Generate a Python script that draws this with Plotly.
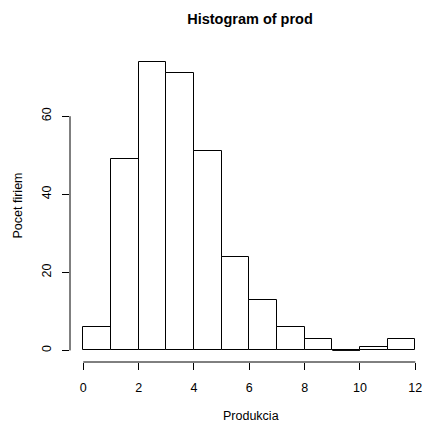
import plotly.graph_objects as go

# Data: histogram bins (left edges, right edges) and counts
bin_left = [0, 1, 2, 3, 4, 5, 6, 7, 8, 9, 10, 11]
bin_right = [1, 2, 3, 4, 5, 6, 7, 8, 9, 10, 11, 12]
counts = [6, 49, 74, 71, 51, 24, 13, 6, 3, 0, 1, 3]
x_ticks = [0, 2, 4, 6, 8, 10, 12]
y_ticks = [0, 20, 40, 60]

centers = [(a + b) / 2 for a, b in zip(bin_left, bin_right)]
widths = [b - a for a, b in zip(bin_left, bin_right)]

W, H = 422, 423
ml, mt = 70, 50
mb = 61
mr = 0
pw = W - ml - mr
ph = H - mt - mb

font = "Liberation Sans, Arial, Helvetica, sans-serif"


def vx(px):
    return (px - ml) / pw


def vy(py):
    return (H - mb - py) / ph


fig = go.Figure(
    go.Bar(
        x=centers,
        y=counts,
        width=widths,
        marker=dict(color="white", line=dict(color="black", width=1)),
        hoverinfo="skip",
    )
)

# zero-count bins: R draws them as a flat line on the baseline
zx, zy = [], []
for a, b, c in zip(bin_left, bin_right, counts):
    if c == 0:
        zx += [a, b, None]
        zy += [0, 0, None]
if zx:
    fig.add_trace(go.Scatter(x=zx, y=zy, mode="lines",
                             line=dict(color="black", width=1),
                             hoverinfo="skip"))

# R-style 4% range extension; the window cuts off the right side
xmin = -0.48
xmax = xmin + pw / 27.67
yr = [-0.04 * max(counts), max(counts) * 1.04]

fig.update_layout(
    width=W,
    height=H,
    margin=dict(l=ml, r=mr, t=mt, b=mb, pad=0),
    paper_bgcolor="white",
    plot_bgcolor="white",
    showlegend=False,
    bargap=0,
    font=dict(family=font, size=12.5, color="black"),
    title=dict(
        text="<b>Histogram of prod</b>",
        x=250 / W,
        xref="container",
        xanchor="center",
        y=1 - 19 / H,
        yref="container",
        yanchor="middle",
        font=dict(size=14.5, family=font, color="black"),
    ),
    xaxis=dict(
        range=[xmin, xmax],
        showgrid=False,
        zeroline=False,
        showline=False,
        tickmode="array",
        tickvals=x_ticks,
        ticktext=[str(v) for v in x_ticks],
        ticks="outside",
        ticklen=7,
        tickwidth=1,
        tickcolor="black",
        ticklabelstandoff=7,
        ticklabeloverflow="allow",
        tickfont=dict(size=12.5, family=font, color="black"),
    ),
    yaxis=dict(
        range=yr,
        showgrid=False,
        zeroline=False,
        showline=False,
        tickmode="array",
        tickvals=y_ticks,
        ticktext=[str(v) for v in y_ticks],
        ticks="outside",
        ticklen=7,
        tickwidth=1,
        tickcolor="black",
        tickangle=-90,
        ticklabelstandoff=6,
        tickfont=dict(size=12.5, family=font, color="black"),
    ),
    shapes=[
        dict(type="line", xref="x", yref="paper", x0=x_ticks[0], x1=x_ticks[-1],
             y0=0, y1=0, line=dict(color="black", width=1)),
        dict(type="line", xref="paper", yref="y", x0=0, x1=0,
             y0=y_ticks[0], y1=y_ticks[-1], line=dict(color="black", width=1)),
    ],
    annotations=[
        dict(text="Produkcia", xref="paper", yref="paper",
             x=vx(251), y=vy(416), xanchor="center", yanchor="middle",
             showarrow=False, font=dict(size=12.5, family=font, color="black")),
        dict(text="Pocet firiem", xref="paper", yref="paper",
             x=vx(17.5), y=vy(206), xanchor="center", yanchor="middle",
             textangle=-90, showarrow=False,
             font=dict(size=12.5, family=font, color="black")),
    ],
)

fig.write_html("out.html")
